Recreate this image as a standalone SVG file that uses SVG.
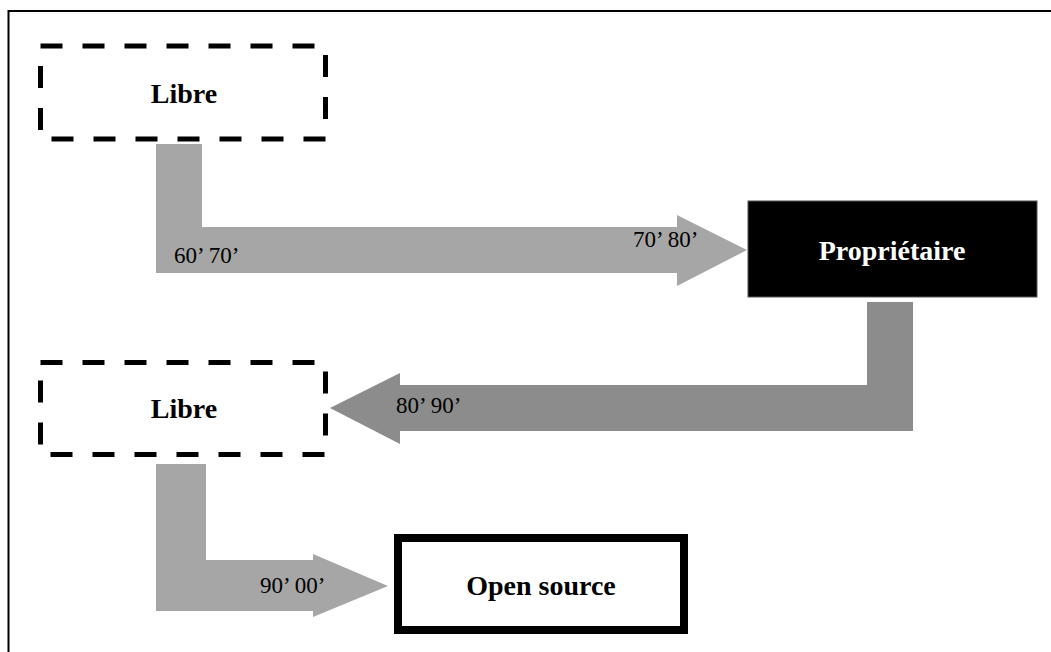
<svg xmlns="http://www.w3.org/2000/svg" width="1051" height="652" viewBox="0 0 1051 652">
<style>
.frame{fill:none;stroke:#000;stroke-width:2}
.dash{fill:#fff;stroke:#000;stroke-width:5;stroke-dasharray:22 20}
.lbl{font-family:"Liberation Serif","Times New Roman",serif;font-size:23px;fill:#000}
.nt{font-family:"Liberation Serif","Times New Roman",serif;font-size:28px;font-weight:bold;text-anchor:middle}
.light{fill:#a6a6a6}
.dark{fill:#8c8c8c}
</style>
<rect width="1051" height="652" fill="#fff"/>
<rect class="frame" x="8.5" y="11" width="1100" height="700"/>
<g id="connectors">
<path class="light" d="M156,144 L202,144 L202,227 L677,227 L677,215 L747,250 L677,286 L677,273 L156,273 Z"/>
<path class="dark" d="M913,302 L913,431 L400,431 L400,444 L330,408 L400,373 L400,385 L867,385 L867,302 Z"/>
<path class="light" d="M156,464 L206,464 L206,560 L313,560 L313,554 L388,586 L313,617 L313,611 L156,611 Z"/>
<text class="lbl" x="174" y="263">60’ 70’</text>
<text class="lbl" x="633" y="247">70’ 80’</text>
<text class="lbl" x="396" y="413">80’ 90’</text>
<text class="lbl" x="260" y="593">90’ 00’</text>
</g>
<g id="libre1">
<rect class="dash" x="40.5" y="46" width="285" height="93"/>
<text class="nt" x="184" y="103">Libre</text>
</g>
<g id="proprietaire">
<rect x="748" y="201" width="289" height="96" fill="#000" stroke="#555" stroke-width="1"/>
<text class="nt" x="892" y="260" fill="#fff">Propriétaire</text>
</g>
<g id="libre2">
<rect class="dash" x="40.5" y="362.5" width="285" height="92"/>
<text class="nt" x="184" y="418">Libre</text>
</g>
<g id="opensource">
<rect x="398" y="538" width="286" height="92" fill="#fff" stroke="#000" stroke-width="8"/>
<text class="nt" x="541" y="595">Open source</text>
</g>
</svg>
